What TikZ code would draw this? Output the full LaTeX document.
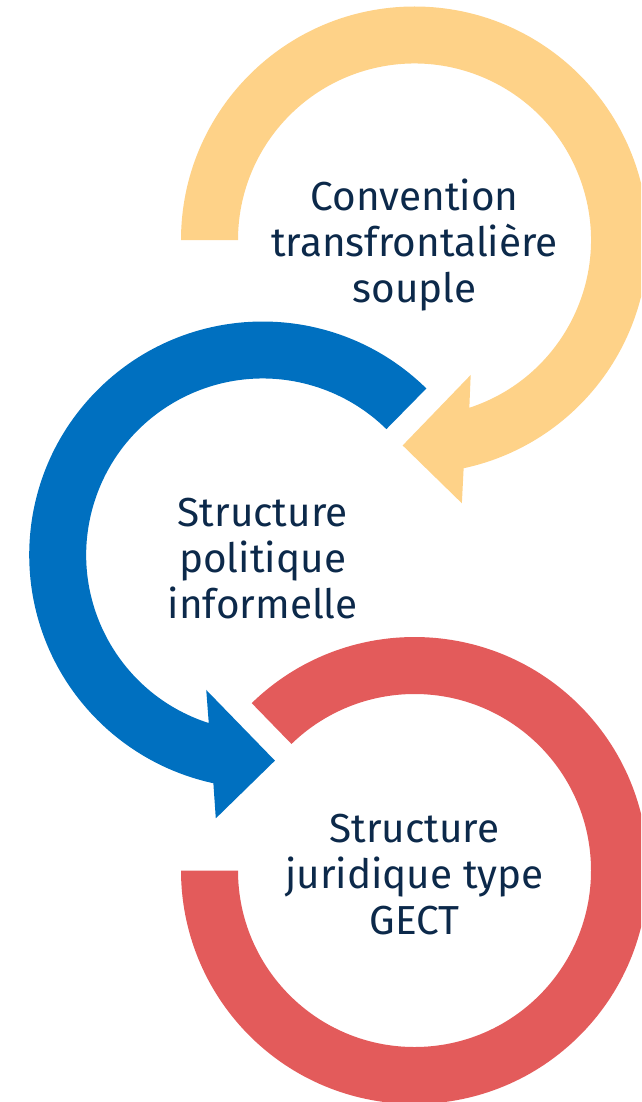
\documentclass[tikz,border=0pt]{standalone}
\usepackage{fontspec}
\setmainfont{Fira Sans}
\definecolor{ringyellow}{RGB}{254,210,136}
\definecolor{ringblue}{RGB}{0,112,192}
\definecolor{ringred}{RGB}{227,91,91}
\definecolor{labelnavy}{RGB}{12,41,74}
\newcommand{\ringlabel}[3]{\vtop{\baselineskip=46pt\lineskiplimit=-100pt\halign{\hfil##\hfil\cr #1\cr #2\cr #3\cr}}}
\tikzset{
  ringtext/.style={font=\fontsize{40.5}{46}\selectfont, text=labelnavy, anchor=base, inner sep=0pt},
}
\begin{document}
\begin{tikzpicture}[x=1pt,y=-1pt]
\useasboundingbox (0,0) rectangle (641,1102);
\clip (0,0) rectangle (641,1102);
\def\Ro{233.5}
\def\Ri{176.5}
% yellow ring with arrow head
\fill[ringyellow, shift={(414.5,240)}]
  (180:\Ro) arc[start angle=180, end angle=437.85, radius=\Ro]
  -- (439.8:267.5) -- (453.3:205.8) -- (427.4:146.2) -- (431.9:\Ri)
  arc[start angle=431.9, end angle=180, radius=\Ri] -- cycle;
% blue ring with arrow head
\fill[ringblue, shift={(262.7,555)}]
  (314.5:\Ro) arc[start angle=314.5, end angle=102.2, radius=\Ro]
  -- (100.1:267.5) -- (86.6:206) -- (112.7:146.3) -- (107.8:\Ri)
  arc[start angle=107.8, end angle=314.5, radius=\Ri] -- cycle;
% red ring
\fill[ringred, shift={(414.5,870.5)}]
  (225.8:\Ro) arc[start angle=225.8, end angle=540, radius=\Ro]
  -- (540:\Ri) arc[start angle=540, end angle=225.8, radius=\Ri] -- cycle;
% labels
\node[ringtext] (conv) at (414.5,210) {\ringlabel{Convention}{transfrontalière}{souple}};
\node[ringtext] (pol) at (262.7,526) {\ringlabel{Structure}{politique}{informelle}};
\node[ringtext] (jur) at (414.5,842.5) {\ringlabel{Structure}{juridique type}{GECT}};
\end{tikzpicture}
\end{document}
